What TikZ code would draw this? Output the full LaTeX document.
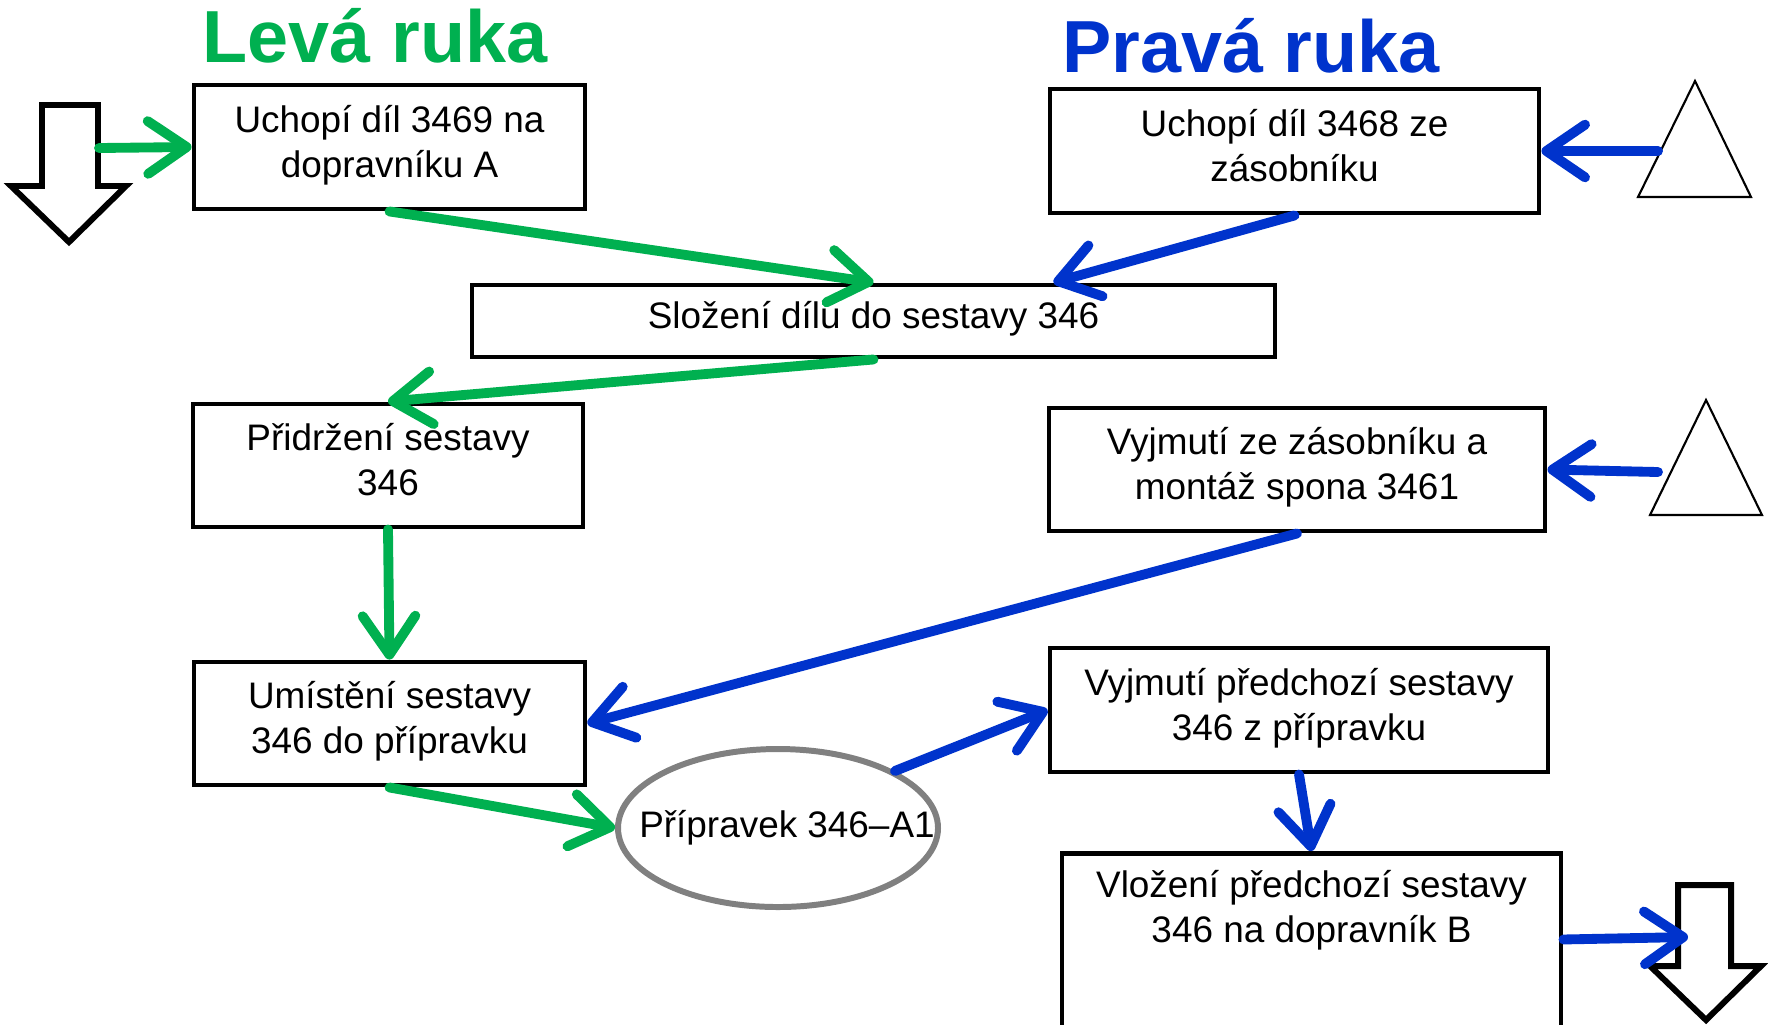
\documentclass[tikz,border=0pt]{standalone}
\usepackage{fontspec}
\setmainfont{Liberation Sans}
\usetikzlibrary{arrows.meta,shapes.geometric}
\definecolor{lgreen}{HTML}{00B050}
\definecolor{rblue}{HTML}{0033CC}

\begin{document}
\begin{tikzpicture}[
  box/.style={draw, line width=1.4pt, align=center, inner sep=1pt,
    font=\fontsize{10.5}{12.8}\selectfont, execute at end node={\rule[-3.4pt]{0pt}{1pt}}},
  hand/.style={font=\fontsize{21}{25}\selectfont\bfseries, anchor=base},
  gline/.style={draw=lgreen, line width=2.8pt, line cap=round,
    -{Straight Barb[length=11pt,width=15pt,round]}},
  bline/.style={draw=rblue, line width=2.8pt, line cap=round,
    -{Straight Barb[length=11pt,width=15pt,round]}},
  hollow/.style={draw, line width=1.7pt, line join=miter},
  tri/.style={draw, line width=0.6pt}]
  \useasboundingbox (0,0) rectangle (17.68,-10.24);
  \node[hand, text=lgreen] (lh) at (3.75,-0.62) {Levá ruka};
  \node[hand, text=rblue] (rh) at (12.51,-0.72) {Pravá ruka};
  \node[box, minimum width=3.91cm, minimum height=1.24cm] (b1) at (3.895,-1.47) {Uchopí díl 3469 na\\dopravníku A};
  \node[box, minimum width=4.89cm, minimum height=1.24cm] (b2) at (12.945,-1.51) {Uchopí díl 3468 ze\\zásobníku};
  \node[box, minimum width=8.03cm, minimum height=0.72cm] (b3) at (8.735,-3.21) {Složení dílu do sestavy 346};
  \node[box, minimum width=3.90cm, minimum height=1.23cm] (b4) at (3.88,-4.655) {Přidržení sestavy\\346};
  \node[box, minimum width=4.96cm, minimum height=1.23cm] (b5) at (12.97,-4.695) {Vyjmutí ze zásobníku a\\montáž spona 3461};
  \node[box, minimum width=3.91cm, minimum height=1.23cm] (b6) at (3.895,-7.235) {Umístění sestavy\\346 do přípravku};
  \node[ellipse, draw=gray, line width=1.7pt, inner sep=0pt, minimum width=3.2cm, minimum height=1.58cm,
    label={[font=\fontsize{10.5}{12.8}\selectfont, xshift=0.09cm]center:Přípravek 346–A1}] (e) at (7.78,-8.28) {};
  \node[box, minimum width=4.98cm, minimum height=1.24cm] (b7) at (12.99,-7.10) {Vyjmutí předchozí sestavy\\346 z přípravku};
  \node[draw, line width=1.4pt, font=\fontsize{10.5}{12.8}\selectfont, anchor=north, inner sep=0pt] (b8) at (13.115,-8.51)
    {\parbox[t][1.8cm][t]{4.99cm}{\centering\vspace*{0.17cm}Vložení předchozí sestavy\\346 na dopravník B}};
  \draw[hollow] (0.42,-1.05) -- (0.98,-1.05) -- (0.98,-1.86) -- (1.26,-1.86) -- (0.69,-2.42) -- (0.11,-1.86) -- (0.42,-1.86) -- cycle;
  \draw[hollow] (16.78,-8.85) -- (17.31,-8.85) -- (17.31,-9.66) -- (17.61,-9.66) -- (17.06,-10.20) -- (16.50,-9.66) -- (16.78,-9.66) -- cycle;
  \draw[tri] (16.95,-0.81) -- (17.51,-1.97) -- (16.38,-1.97) -- cycle;
  \draw[tri] (17.06,-4.00) -- (17.62,-5.15) -- (16.50,-5.15) -- cycle;
  \coordinate (src) at (0.99,-1.48);
  \coordinate (t1) at (16.58,-1.51);
  \coordinate (t2) at (16.58,-4.72);
  \coordinate (sink) at (16.88,-9.37);
  \draw[gline] (src) -- (b1.west);
  \draw[gline] (b1.south) -- (b3.north);
  \draw[bline] (b2.south) -- ([xshift=1.8cm]b3.north);
  \draw[bline] (t1) -- (b2.east);
  \draw[gline] (b3.south) -- (b4.north);
  \draw[bline] (t2) -- (b5.east);
  \draw[gline] (b4.south) -- (b6.north);
  \draw[bline] (b5.south) -- (b6.east);
  \draw[gline] (b6.south) -- (e.west);
  \draw[bline] (e.26) -- (b7.west);
  \draw[bline] (b7.south) -- (b8.north);
  \draw[bline] ([yshift=0.04cm]b8.east) -- (sink);
\end{tikzpicture}
\end{document}
